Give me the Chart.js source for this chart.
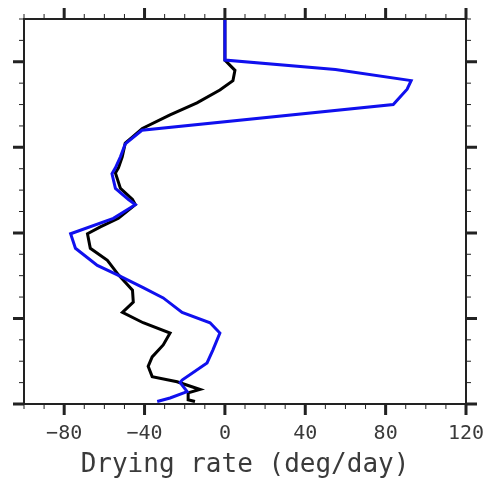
<!DOCTYPE html>
<html>
<head>
<meta charset="utf-8">
<script src="https://cdn.jsdelivr.net/npm/chart.js@4/dist/chart.umd.min.js"></script>
<style>
  html, body { margin: 0; padding: 0; background: #fff; }
  #wrap { width: 486px; height: 481px; }
</style>
</head>
<body>
<div id="wrap"><canvas id="chart"></canvas></div>
<script>
// drying rate (deg/day) against the unlabelled vertical coordinate
const blueRate = [0, 0, 55, 92.7, 90.7, 83.8, -41.3, -49.6, -52, -54.5, -56.2, -54.5, -48, -44.6,
    -55.5, -76.8, -74.4, -63.5, -53.5, -40.7, -30.7, -21.3, -7.4, -2.5, -6, -8.9, -21.3, -22.3,
    -18.8, -27.3, -33.7];
const blueLevel = [4.5, 4.02, 3.91, 3.78, 3.68, 3.5, 3.2, 3.04, 2.89, 2.76, 2.69, 2.52, 2.39, 2.33,
    2.17, 1.99, 1.82, 1.62, 1.51, 1.36, 1.24, 1.07, 0.95, 0.83, 0.63, 0.48, 0.28, 0.25,
    0.145, 0.07, 0.03];

const blackRate = [0, 0, 5, 4, -2.5, -13.9, -27.3, -41.1, -46.1, -49.6, -51.1, -53, -54.5, -52, -46,
    -44.6, -53, -62, -68.4, -67, -58.5, -53, -46, -45.6, -51, -40.7, -27.3, -30.7, -36.2, -38.2,
    -36.2, -23.8, -12.4, -18.3, -18.3, -14.9];
const blackLevel = [4.5, 4.02, 3.9, 3.78, 3.67, 3.52, 3.38, 3.22, 3.12, 3.05, 2.89, 2.76, 2.7, 2.52, 2.39,
    2.33, 2.17, 2.07, 1.99, 1.82, 1.68, 1.51, 1.33, 1.19, 1.07, 0.95, 0.83, 0.69, 0.55, 0.44,
    0.32, 0.26, 0.17, 0.13, 0.05, 0.03];

const xMajorTicks = [-80, -40, 0, 40, 80, 120];

function pairs(xs, ys) {
    return xs.map((v, i) => ({ x: v, y: ys[i] }));
}

// frame + outward ticks on all four sides
const frameTicks = {
    id: 'frameTicks',
    afterDraw(chart) {
        const ctx = chart.ctx;
        const a = chart.chartArea;
        const sx = chart.scales.x, sy = chart.scales.y;
        ctx.save();
        ctx.strokeStyle = '#222';
        ctx.lineWidth = 2;
        ctx.strokeRect(a.left, a.top, a.right - a.left, a.bottom - a.top);

        for (let v = -100; v <= 120; v += 10) {
            const px = sx.getPixelForValue(v);
            const major = v % 40 === 0;
            const len = major ? 11 : 5;
            ctx.lineWidth = major ? 3 : 1;
            ctx.beginPath();
            ctx.moveTo(px, a.bottom); ctx.lineTo(px, a.bottom + len);
            ctx.moveTo(px, a.top); ctx.lineTo(px, a.top - len);
            ctx.stroke();
        }
        for (let v = 0; v <= 4.5; v += 0.25) {
            const py = sy.getPixelForValue(v);
            const major = Math.abs(v - Math.round(v)) < 1e-6;
            const len = major ? 11 : 5;
            ctx.lineWidth = major ? 3 : 1;
            ctx.beginPath();
            ctx.moveTo(a.left, py); ctx.lineTo(a.left - len, py);
            ctx.moveTo(a.right, py); ctx.lineTo(a.right + len, py);
            ctx.stroke();
        }
        ctx.restore();
    }
};

new Chart(document.getElementById('chart'), {
    type: 'scatter',
    plugins: [frameTicks],
    data: {
        datasets: [{
            data: pairs(blueRate, blueLevel),
            showLine: true,
            borderColor: '#1010ee',
            borderWidth: 3,
            pointRadius: 0,
            tension: 0
        }, {
            data: pairs(blackRate, blackLevel),
            showLine: true,
            borderColor: '#000000',
            borderWidth: 3,
            pointRadius: 0,
            tension: 0
        }]
    },
    options: {
        responsive: true,
        maintainAspectRatio: false,
        animation: false,
        layout: { padding: 0 },
        plugins: {
            legend: { display: false },
            tooltip: { enabled: false }
        },
        scales: {
            x: {
                type: 'linear',
                position: 'bottom',
                min: -100,
                max: 120,
                afterBuildTicks: (scale) => {
                    scale.ticks = xMajorTicks.map(v => ({ value: v }));
                },
                afterFit: (scale) => {
                    scale.height = 77;
                    scale.paddingLeft = 0;
                    scale.paddingRight = 0;
                },
                grid: { display: false },
                border: { display: false },
                ticks: {
                    padding: 10,
                    color: '#3a3a3a',
                    font: { family: 'DejaVu Sans Mono', size: 20 },
                    maxRotation: 0,
                    callback: (v) => (v < 0 ? '\u2212' + Math.abs(v) : String(v))
                },
                title: {
                    display: true,
                    text: 'Drying rate (deg/day)',
                    color: '#3a3a3a',
                    font: { family: 'DejaVu Sans Mono', size: 26 },
                    padding: { top: 4, bottom: 0 }
                }
            },
            y: {
                type: 'linear',
                position: 'left',
                min: 0,
                max: 4.5,
                afterFit: (scale) => { scale.width = 24; },
                grid: { display: false },
                border: { display: false },
                ticks: { display: false }
            },
            xTop: {
                type: 'linear',
                position: 'top',
                min: -100,
                max: 120,
                afterFit: (scale) => { scale.height = 19; },
                grid: { display: false },
                border: { display: false },
                ticks: { display: false }
            },
            yRight: {
                type: 'linear',
                position: 'right',
                min: 0,
                max: 4.5,
                afterFit: (scale) => { scale.width = 20; },
                grid: { display: false },
                border: { display: false },
                ticks: { display: false }
            }
        }
    }
});
</script>
</body>
</html>
